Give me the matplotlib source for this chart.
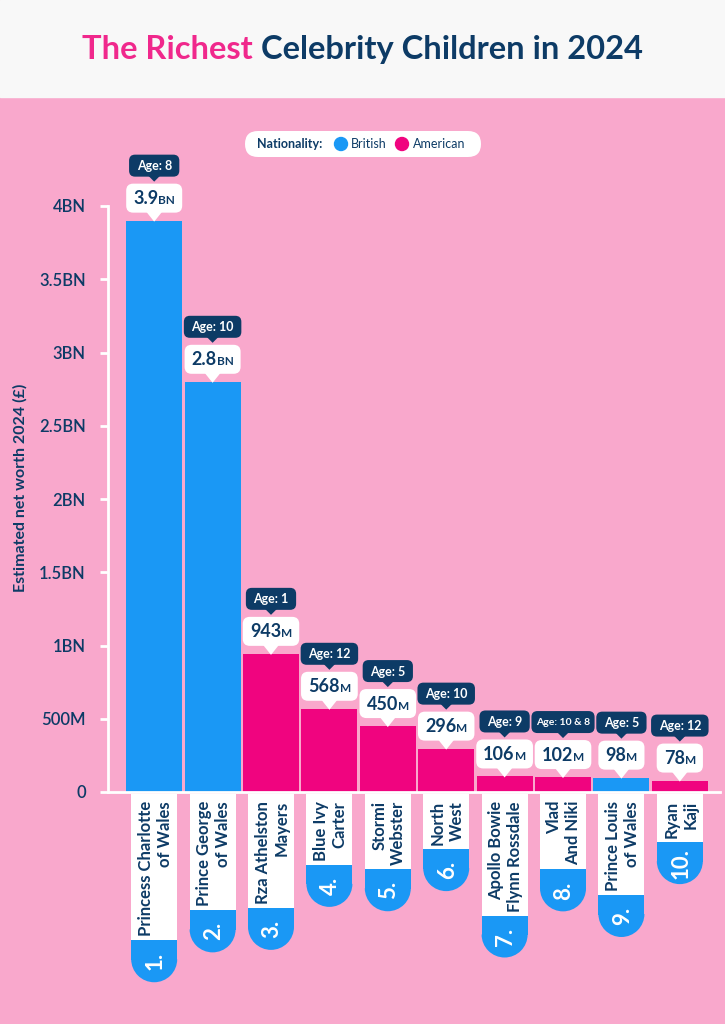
import numpy as np
import matplotlib
matplotlib.use("Agg")
import matplotlib.pyplot as plt
from matplotlib.patches import FancyBboxPatch, Rectangle, Polygon, Wedge, Circle

plt.rcParams['font.family'] = ['Lato', 'DejaVu Sans']

# ---- data ----
names = ["Princess Charlotte\nof Wales", "Prince George\nof Wales", "Rza Athelston\nMayers",
         "Blue Ivy\nCarter", "Stormi\nWebster", "North\nWest", "Apollo Bowie\nFlynn Rossdale",
         "Vlad\nAnd Niki", "Prince Louis\nof Wales", "Ryan\nKaji"]
worth_m = [3900, 2800, 943, 568, 450, 296, 106, 102, 98, 78]   # millions of pounds
ages = ["8", "10", "1", "12", "5", "10", "9", "10 & 8", "5", "12"]
nationality = ["British", "British", "American", "American", "American",
               "American", "American", "American", "British", "American"]
tick_vals = [0, 500, 1000, 1500, 2000, 2500, 3000, 3500, 4000]
tick_labels = ["0", "500M", "1BN", "1.5BN", "2BN", "2.5BN", "3BN", "3.5BN", "4BN"]

PINK_BG = "#f9a8cc"
HEADER = "#f8f8f8"
BLUE = "#1a98f5"
MAGENTA = "#f0047f"
NAVY = "#0d3b66"
TITLE_PINK = "#f0288c"

W, H = 725, 1024
fig = plt.figure(figsize=(W / 100, H / 100), dpi=100, facecolor=PINK_BG)

# main axes (pixel box 108..720 x 100..792)
ax = fig.add_axes([108 / W, 1 - 792 / H, (720 - 108) / W, (792 - 100) / H])
ax.set_facecolor('none')
x = np.arange(len(names))
colors = [BLUE if n == "British" else MAGENTA for n in nationality]
ax.bar(x, worth_m, width=0.96, color=colors, zorder=2)
ax.set_xlim(-0.791, 9.688)
ax.set_ylim(0, 692 / 146.5 * 1000)
for s in ['top', 'right']:
    ax.spines[s].set_visible(False)
for s in ['left', 'bottom']:
    ax.spines[s].set_color('white')
    ax.spines[s].set_linewidth(2)
    ax.spines[s].set_zorder(3)
ax.spines['left'].set_bounds(0, 4000)
ax.set_xticks([])
ax.set_yticks(tick_vals)
ax.set_yticklabels(tick_labels)
ax.tick_params(axis='y', colors='white', length=6, width=2, pad=10,
               labelcolor=NAVY, labelsize=12)
for t in ax.get_yticklabels():
    t.set_fontweight('semibold')

fig.text(20 / W, 1 - 488 / H, "Estimated net worth 2024 (£)", rotation=90,
         ha='center', va='center', color=NAVY, fontsize=11.5, fontweight='bold')

# overlay axes in pixel coords
ov = fig.add_axes([0, 0, 1, 1])
ov.set_xlim(0, W)
ov.set_ylim(H, 0)
ov.axis('off')
ov.patch.set_alpha(0)
r = fig.canvas.get_renderer()


def px(xd, yd):
    d = ax.transData.transform((xd, yd))
    return d[0], H - d[1]


def width_of(t):
    return t.get_window_extent(renderer=r).width


# header
ov.add_patch(Rectangle((0, 0), W, 97, color=HEADER, zorder=0))
t1 = ov.text(0, 59, "The Richest", color=TITLE_PINK, fontsize=23.5, fontweight='bold', va='baseline')
t2 = ov.text(0, 59, "Celebrity Children in 2024", color=NAVY, fontsize=23.5, fontweight='bold', va='baseline')
gap = 8
w1, w2 = width_of(t1), width_of(t2)
x0 = (W - (w1 + gap + w2)) / 2
t1.set_x(x0)
t2.set_x(x0 + w1 + gap)

# legend pill
ov.add_patch(FancyBboxPatch((245, 131), 236, 26, boxstyle="round,pad=0,rounding_size=13",
                            fc='white', ec='none'))
ov.text(257, 144.5, "Nationality:", color=NAVY, fontsize=9, fontweight='bold', va='center')
ov.add_patch(Circle((341, 144), 6.5, color=BLUE))
ov.text(351, 144.5, "British", color=NAVY, fontsize=9, va='center')
ov.add_patch(Circle((402, 144), 6.5, color=MAGENTA))
ov.text(413, 144.5, "American", color=NAVY, fontsize=9, va='center')

for i, v in enumerate(worth_m):
    cx, ytop = px(i, v)
    # value callout
    if v >= 1000:
        num, suf = f"{v / 1000:.1f}", "BN"
    else:
        num, suf = str(v), "M"
    tn = ov.text(0, 0, num, color=NAVY, fontsize=13, fontweight='bold', va='baseline',
                 ha='right', zorder=5)
    ts = ov.text(0, 0, suf, color=NAVY, fontsize=8.5, fontweight='bold', va='baseline',
                 ha='left', zorder=5)
    wn, ws = width_of(tn), width_of(ts)
    bw = max(wn + ws + 14, 41)
    bbot = ytop - 8
    btop = bbot - 29
    ov.add_patch(FancyBboxPatch((cx - bw / 2, btop), bw, 29, boxstyle="round,pad=0,rounding_size=7",
                                fc='white', ec='none', zorder=4))
    ov.add_patch(Polygon([(cx - 8, bbot - 1), (cx + 8, bbot - 1), (cx, ytop + 1)],
                         closed=True, fc='white', ec='none', zorder=4))
    split = cx - (wn + ws) / 2 + wn
    tn.set_position((split, btop + 20.5))
    ts.set_position((split, btop + 20.5))

    # age callout
    small = len(ages[i]) > 3
    ta = ov.text(cx, 0, "Age: " + ages[i], color='white', fontsize=7.5 if small else 9,
                 fontweight='bold', ha='center', va='center', zorder=5)
    aw = width_of(ta) + (9 if small else 15)
    abot = btop - 7
    atop = abot - 22
    ov.add_patch(FancyBboxPatch((cx - aw / 2, atop), aw, 22, boxstyle="round,pad=0,rounding_size=6",
                                fc=NAVY, ec='none', zorder=4))
    ov.add_patch(Polygon([(cx - 6, abot - 1), (cx + 6, abot - 1), (cx, abot + 5)],
                         closed=True, fc=NAVY, ec='none', zorder=4))
    ta.set_y(atop + 11.5)

    # name tab below the axis
    tl = ov.text(cx + 1, 801, names[i], rotation=90, ha='center', va='top', multialignment='right',
                 color=NAVY, fontsize=12, fontweight='bold', linespacing=1.22, zorder=5)
    th = tl.get_window_extent(renderer=r).height
    wend = 801 + th + 4
    ov.add_patch(Rectangle((cx - 23, 794), 46, wend - 794, fc='white', ec='none', zorder=3))
    ov.add_patch(Rectangle((cx - 23, wend), 46, 19.5, fc=BLUE, ec='none', zorder=3))
    ov.add_patch(Wedge((cx, wend + 19), 23, 0, 180, fc=BLUE, ec='none', zorder=3))
    ov.text(cx + 1, wend + 21, f"{i + 1}.", rotation=90, ha='center', va='center',
            color='white', fontsize=16, fontweight='bold', zorder=5)

fig.savefig("out.png", dpi=100, facecolor=PINK_BG)
